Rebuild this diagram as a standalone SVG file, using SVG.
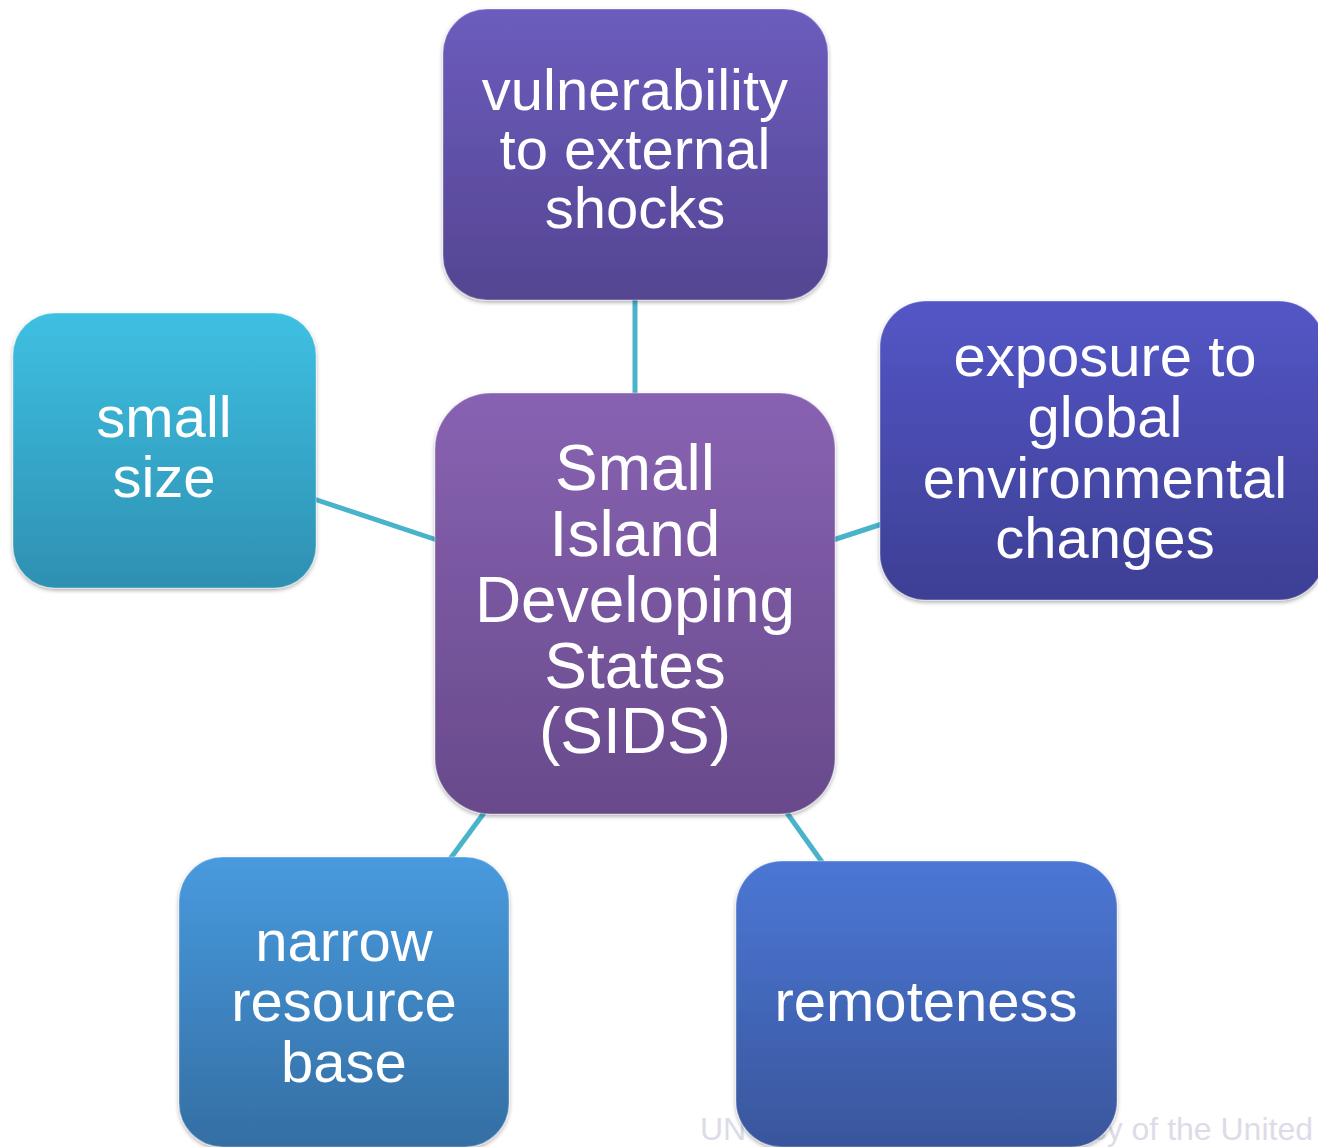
<svg xmlns="http://www.w3.org/2000/svg" width="1318" height="1147" viewBox="0 0 1318 1147">
  <defs>
    <linearGradient id="gTop" x1="0" y1="0" x2="0" y2="1"><stop offset="0" stop-color="#6c5cbd"/><stop offset="1" stop-color="#554592"/></linearGradient>
    <linearGradient id="gCenter" x1="0" y1="0" x2="0" y2="1"><stop offset="0" stop-color="#8862b2"/><stop offset="1" stop-color="#684a8b"/></linearGradient>
    <linearGradient id="gSmall" x1="0" y1="0" x2="0" y2="1"><stop offset="0" stop-color="#3ec0e2"/><stop offset="1" stop-color="#2e90b2"/></linearGradient>
    <linearGradient id="gExpo" x1="0" y1="0" x2="0" y2="1"><stop offset="0" stop-color="#5456c6"/><stop offset="1" stop-color="#3d3f94"/></linearGradient>
    <linearGradient id="gNarrow" x1="0" y1="0" x2="0" y2="1"><stop offset="0" stop-color="#489ade"/><stop offset="1" stop-color="#346ea4"/></linearGradient>
    <linearGradient id="gRemote" x1="0" y1="0" x2="0" y2="1"><stop offset="0" stop-color="#4b77d5"/><stop offset="1" stop-color="#39569c"/></linearGradient>
    <filter id="shadow" x="-10%" y="-10%" width="120%" height="120%">
      <feDropShadow dx="0" dy="2" stdDeviation="2" flood-color="#000" flood-opacity="0.35"/>
    </filter>
  </defs>
  <style>
    .box { filter: url(#shadow); stroke: rgba(255,255,255,0.25); stroke-width: 1.5; }
    .lbl { font-family: "Liberation Sans", Arial, sans-serif; font-size: 58px; fill: #ffffff; text-anchor: middle; }
    .big { font-size: 64px; }
    .conn { stroke: #48b3cb; stroke-width: 5; fill: none; }
    .faint { font-family: "Liberation Sans", Arial, sans-serif; font-size: 32px; fill: #dcdce8; }
  </style>
  <rect width="1318" height="1147" fill="#ffffff"/>

  <g id="watermark">
    <text class="faint" x="700" y="1140">UN</text>
    <text class="faint" x="1313" y="1140" text-anchor="end">cy of the United</text>
  </g>

  <g id="connectors">
    <line class="conn" x1="635" y1="298" x2="635" y2="395"/>
    <line class="conn" x1="314" y1="499" x2="437" y2="540"/>
    <line class="conn" x1="833" y1="540" x2="882" y2="524"/>
    <line class="conn" x1="484" y1="813" x2="450" y2="859"/>
    <line class="conn" x1="787" y1="813" x2="822" y2="862"/>
  </g>

  <g id="node-vulnerability">
    <rect class="box" x="443" y="9" width="385" height="291" rx="44" fill="url(#gTop)"/>
    <text class="lbl" x="635" y="110">vulnerability</text>
    <text class="lbl" x="635" y="169">to external</text>
    <text class="lbl" x="635" y="228">shocks</text>
  </g>

  <g id="node-sids">
    <rect class="box" x="435" y="393" width="400" height="421" rx="56" fill="url(#gCenter)"/>
    <text class="lbl big" x="635" y="490">Small</text>
    <text class="lbl big" x="635" y="556">Island</text>
    <text class="lbl big" x="635" y="622">Developing</text>
    <text class="lbl big" x="635" y="688">States</text>
    <text class="lbl big" x="635" y="753">(SIDS)</text>
  </g>

  <g id="node-small-size">
    <rect class="box" x="13" y="313" width="303" height="275" rx="42" fill="url(#gSmall)"/>
    <text class="lbl" x="164" y="437">small</text>
    <text class="lbl" x="164" y="497">size</text>
  </g>

  <g id="node-exposure">
    <rect class="box" x="880" y="301" width="445" height="299" rx="46" fill="url(#gExpo)"/>
    <text class="lbl" x="1105" y="376">exposure to</text>
    <text class="lbl" x="1105" y="437">global</text>
    <text class="lbl" x="1105" y="498">environmental</text>
    <text class="lbl" x="1105" y="558">changes</text>
  </g>

  <g id="node-narrow">
    <rect class="box" x="179" y="857" width="330" height="290" rx="44" fill="url(#gNarrow)"/>
    <text class="lbl" x="344" y="961">narrow</text>
    <text class="lbl" x="344" y="1021">resource</text>
    <text class="lbl" x="344" y="1082">base</text>
  </g>

  <g id="node-remoteness">
    <rect class="box" x="736" y="861" width="381" height="286" rx="46" fill="url(#gRemote)"/>
    <text class="lbl" x="926" y="1021">remoteness</text>
  </g>
</svg>
